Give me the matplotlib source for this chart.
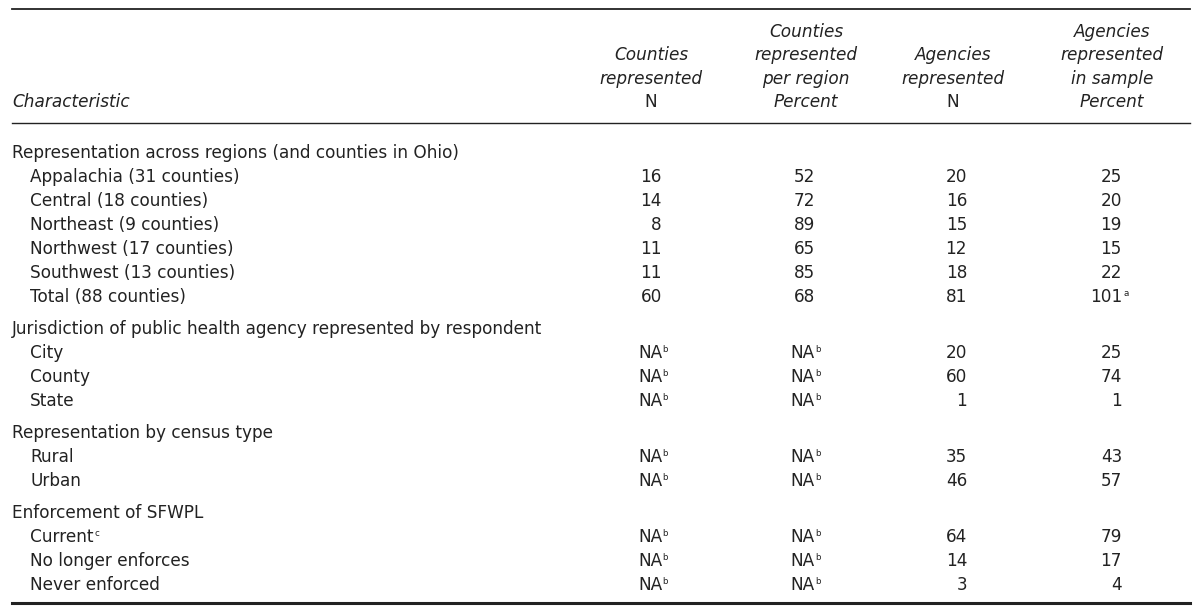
import matplotlib
matplotlib.use("Agg")
import matplotlib.pyplot as plt

plt.rcParams['font.family'] = ['DejaVu Sans']

# table content
col_headers = [
    ["Counties", "represented", "N"],
    ["Counties", "represented", "per region", "Percent"],
    ["Agencies", "represented", "N"],
    ["Agencies", "represented", "in sample", "Percent"],
]
header_italic = [
    [True, True, False],
    [True, True, True, True],
    [True, True, False],
    [True, True, True, True],
]

section_titles = [
    "Representation across regions (and counties in Ohio)",
    "Jurisdiction of public health agency represented by respondent",
    "Representation by census type",
    "Enforcement of SFWPL",
]
row_labels = [
    ["Appalachia (31 counties)", "Central (18 counties)", "Northeast (9 counties)",
     "Northwest (17 counties)", "Southwest (13 counties)", "Total (88 counties)"],
    ["City", "County", "State"],
    ["Rural", "Urban"],
    ["Current", "No longer enforces", "Never enforced"],
]
label_notes = [
    ["", "", "", "", "", ""],
    ["", "", ""],
    ["", ""],
    ["c", "", ""],
]
# None = NA (footnote b)
counties_n = [
    [16, 14, 8, 11, 11, 60],
    [None, None, None],
    [None, None],
    [None, None, None],
]
counties_pct = [
    [52, 72, 89, 65, 85, 68],
    [None, None, None],
    [None, None],
    [None, None, None],
]
agencies_n = [
    [20, 16, 15, 12, 18, 81],
    [20, 60, 1],
    [35, 46],
    [64, 14, 3],
]
agencies_pct = [
    [25, 20, 19, 15, 22, 101],
    [25, 74, 1],
    [43, 57],
    [79, 17, 4],
]
agencies_pct_notes = [
    ["", "", "", "", "", "a"],
    ["", "", ""],
    ["", ""],
    ["", "", ""],
]

W, H = 1200, 614
fig = plt.figure(figsize=(W / 100, H / 100), dpi=100)
ax = fig.add_axes([0, 0, 1, 1])
ax.set_xlim(0, W)
ax.set_ylim(H, 0)
ax.axis('off')

ink = '#222222'
fs = 12.2
sup_fs = 6.3

x_left = 12
x_right = 1190
x_indent = 30
col_right = [662, 815, 967, 1122]
col_center = [651, 806, 953, 1112]

# rules
ax.plot([x_left, x_right], [8.5, 8.5], color=ink, lw=1.3)
ax.plot([x_left, x_right], [122.5, 122.5], color=ink, lw=1.0)
ax.plot([x_left, x_right], [603, 603], color=ink, lw=2.2)

# header block, bottom-aligned at the "N"/"Percent" line
line_h = 23.3
y_last = 102
ax.text(x_left, y_last, "Characteristic", fontsize=fs, style='italic',
        color=ink, ha='left', va='center')
for c, lines in enumerate(col_headers):
    n = len(lines)
    for k, txt in enumerate(lines):
        y = y_last - (n - 1 - k) * line_h
        ax.text(col_center[c], y, txt, fontsize=fs, color=ink, ha='center', va='center',
                style='italic' if header_italic[c][k] else 'normal')


def put_value(x, y, v, note=""):
    if v is None:
        ax.text(x, y, "NA", fontsize=fs, color=ink, ha='right', va='center')
        ax.text(x + 0.5, y - 3.5, "b", fontsize=sup_fs, color=ink, ha='left', va='center')
    else:
        ax.text(x, y, str(v), fontsize=fs, color=ink, ha='right', va='center')
        if note:
            ax.text(x + 1, y - 3.5, note, fontsize=sup_fs, color=ink, ha='left', va='center')


y = 153
row_h = 24
sec_gap = 32
for s, title in enumerate(section_titles):
    if s > 0:
        y += sec_gap
    ax.text(x_left, y, title, fontsize=fs, color=ink, ha='left', va='center')
    for i, lab in enumerate(row_labels[s]):
        y += row_h
        t = ax.text(x_indent, y, lab, fontsize=fs, color=ink, ha='left', va='center')
        if label_notes[s][i]:
            fig.canvas.draw()
            bb = t.get_window_extent().transformed(ax.transData.inverted())
            ax.text(bb.x1 + 1, y - 3.5, label_notes[s][i], fontsize=sup_fs,
                    color=ink, ha='left', va='center')
        put_value(col_right[0], y, counties_n[s][i])
        put_value(col_right[1], y, counties_pct[s][i])
        put_value(col_right[2], y, agencies_n[s][i])
        put_value(col_right[3], y, agencies_pct[s][i], agencies_pct_notes[s][i])

fig.savefig("out.png", dpi=100, facecolor='white')
